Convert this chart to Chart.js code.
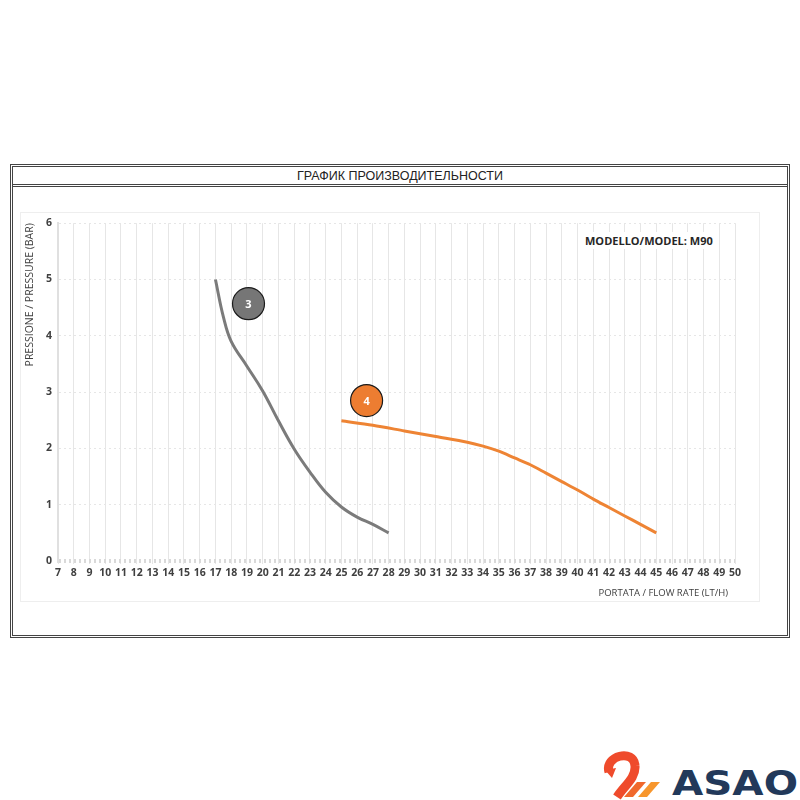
<!DOCTYPE html>
<html>
  <head>
    <meta charset="UTF-8" />
    <script src="https://cdn.jsdelivr.net/npm/chart.js"></script>
  </head>
  <style>
    body {
      margin: 0;
      width: 800px;
      height: 800px;
      background: #fff;
      position: relative;
      font-family: "Liberation Sans", Arial, sans-serif;
    }
    .frame {
      position: absolute;
      left: 10px;
      top: 164px;
      width: 774px;
      height: 468px;
      border: 3px double #444;
    }
    .head {
      height: 17px;
      border-bottom: 3px double #444;
      text-align: center;
      font-size: 12.5px;
      line-height: 18px;
      color: #222;
    }
    .panel {
      position: absolute;
      left: 20px;
      top: 212px;
      width: 738px;
      height: 388px;
      border: 1px solid #eeeeee;
    }
    .model {
      position: absolute;
      left: 581px;
      top: 232px;
      padding: 1px 4px;
      background: #fff;
      font-family: "Open Sans", sans-serif;
      font-weight: bold;
      font-size: 11px;
      color: #262626;
    }
    .logo {
      position: absolute;
      left: 600px;
      top: 748px;
    }
  </style>
  <body>
    <div class="frame"><div class="head">ГРАФИК ПРОИЗВОДИТЕЛЬНОСТИ</div></div>
    <div class="panel"></div>
    <div style="position: absolute; left: 20px; top: 206px; width: 740px; height: 396px">
      <canvas id="perf"></canvas>
    </div>
    <div class="model">MODELLO/MODEL: M90</div>
    <svg class="logo" width="200" height="52" viewBox="0 0 200 52">
      <path d="M9 24 C4 8 34 0 35 18 C36 30 24 38 17 49" fill="none" stroke="#ef4b2c" stroke-width="9" />
      <path d="M5 22 L16 20 L12 30 Z" fill="#ef4b2c" />
      <path d="M24 49 L37 34 L46 34 L33 49 Z" fill="#f0682c" />
      <path d="M38 49 L51 34 L60 34 L47 49 Z" fill="#f7962d" />
      <text x="72" y="47" font-family="'DejaVu Sans', sans-serif" font-weight="bold" font-size="34" fill="#22395a" textLength="126" lengthAdjust="spacingAndGlyphs">ASAO</text>
    </svg>
    <script>
      const flowTicks = [7, 50];
      const pressureTicks = [0, 6];

      const curve3Flow = [17, 17.5, 18, 19, 20, 21, 22, 23, 24, 25, 26, 27, 28];
      const curve3Pressure = [5, 4.34, 3.9, 3.46, 3.02, 2.49, 1.99, 1.58, 1.22, 0.96, 0.78, 0.65, 0.5];

      const curve4Flow = [25, 27, 29, 31, 33, 34, 35, 36, 37, 38, 39, 40, 41, 42, 43, 44, 45];
      const curve4Pressure = [2.49, 2.41, 2.31, 2.21, 2.11, 2.04, 1.95, 1.83, 1.71, 1.56, 1.41, 1.26, 1.1, 0.95, 0.8, 0.65, 0.5];

      const markerLabels = ["3", "4"];
      const markerFlow = [19.1, 26.6];
      const markerPressure = [4.57, 2.85];

      const toPoints = (xs, ys) => xs.map((x, i) => ({ x: x, y: ys[i] }));

      const extraText = {
        id: "extraText",
        afterDraw(chart) {
          const ctx = chart.ctx;
          ctx.save();
          ctx.fillStyle = "#ffffff";
          ctx.font = "bold 11px 'Open Sans'";
          ctx.textAlign = "center";
          ctx.textBaseline = "middle";
          chart.getDatasetMeta(2).data.forEach((pt, i) => {
            ctx.fillText(markerLabels[i], pt.x, pt.y + 1);
          });
          // x axis title, just left of the plot's right edge
          ctx.fillStyle = "#404040";
          ctx.font = "9.5px 'Open Sans'";
          ctx.textAlign = "right";
          ctx.fillText("PORTATA / FLOW RATE (LT/H)", chart.chartArea.right - 7, chart.scales.x.bottom - 9);
          ctx.restore();
        },
      };

      new Chart(document.getElementById("perf"), {
        type: "scatter",
        data: {
          datasets: [
            {
              data: toPoints(curve3Flow, curve3Pressure),
              showLine: true,
              borderColor: "#7b7b7b",
              borderWidth: 3,
              pointRadius: 0,
              tension: 0.4,
            },
            {
              data: toPoints(curve4Flow, curve4Pressure),
              showLine: true,
              borderColor: "#ee8434",
              borderWidth: 3,
              pointRadius: 0,
              tension: 0.3,
            },
            {
              data: toPoints(markerFlow, markerPressure),
              showLine: false,
              pointRadius: 16,
              pointBorderWidth: 1.2,
              pointBorderColor: "#1a1a1a",
              pointBackgroundColor: ["#767676", "#ed7d31"],
            },
          ],
        },
        options: {
          responsive: true,
          maintainAspectRatio: false,
          animation: false,
          events: [],
          layout: { padding: { top: 4, right: 25, left: 4, bottom: 0 } },
          plugins: { legend: { display: false }, tooltip: { enabled: false } },
          scales: {
            x: {
              type: "linear",
              min: flowTicks[0],
              max: flowTicks[1],
              afterFit: (s) => (s.height = 41),
              ticks: {
                stepSize: 1,
                autoSkip: false,
                maxRotation: 0,
                color: "#404040",
                font: { family: "Open Sans", weight: "bold", size: 10.5 },
                padding: 3,
              },
              grid: { color: "#e6e6e6", tickLength: 3 },
              border: { display: false },
            },
            y: {
              min: pressureTicks[0],
              max: pressureTicks[1],
              afterFit: (s) => (s.width = 34),
              ticks: {
                stepSize: 1,
                color: "#404040",
                font: { family: "Open Sans", weight: "bold", size: 10.5 },
                padding: 6,
              },
              grid: {
                color: (c) => (c.tick && c.tick.value === 0 ? "#d9d9d9" : "#e6e6e6"),
                lineWidth: (c) => (c.tick && c.tick.value === 0 ? 4 : 1),
                drawTicks: false,
              },
              border: { display: true, color: "#e0e0e0", width: 2, dash: [2, 3] },
              title: {
                display: true,
                text: "PRESSIONE / PRESSURE (BAR)",
                align: "end",
                color: "#404040",
                font: { family: "Open Sans", size: 10.5 },
                padding: { top: 0, bottom: 2 },
              },
            },
          },
        },
        plugins: [extraText],
      });
    </script>
  </body>
</html>
